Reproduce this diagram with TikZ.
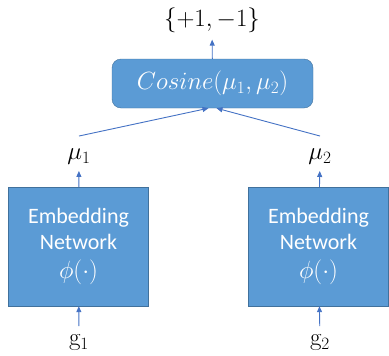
\documentclass[tikz,border=0pt]{standalone}
\usepackage[no-math]{fontspec}
\setmainfont{Carlito}
\usetikzlibrary{positioning,arrows.meta}
\definecolor{boxblue}{HTML}{5B9BD5}
\definecolor{boxedge}{HTML}{41719C}
\definecolor{arrowblue}{HTML}{4472C4}
\newcommand{\bigmath}[1]{{\fontsize{27}{26}\selectfont$#1$}}
\tikzset{
  netbox/.style={draw=boxedge,fill=boxblue,rectangle,minimum width=140pt,minimum height=119pt,text=white,align=center,font=\fontsize{22}{26}\selectfont},
  cosbox/.style={draw=boxedge,fill=boxblue,rectangle,rounded corners=9pt,minimum width=201pt,minimum height=49pt,text=white,font=\fontsize{24}{26}\selectfont},
  lbl/.style={inner sep=0pt,font=\fontsize{23}{26}\selectfont},
  arr/.style={draw=arrowblue,line width=0.9pt,-{Triangle[length=6pt,width=5pt]}}
}
\begin{document}
\begin{tikzpicture}[x=1pt,y=-1pt]
\useasboundingbox (0,0) rectangle (389,356);
%\draw [thin,red] (0,0) rectangle (389,356);
\node [cosbox] (cos) at(212.5,83.5){$Cosine(\mu_1,\mu_2)$};
\node [lbl] (res) at(212,20){$\{+1,-1\}$};

\node [netbox] (e1) at(78.5,246.5){Embedding\\Network\\[3pt]\bigmath{\phi(\cdot)}};
\node [netbox] (e2) at(318.5,246.5){Embedding\\Network\\[3pt]\bigmath{\phi(\cdot)}};

\node [lbl] (mu1) at(79,157){$\mu_1$};
\node [lbl] (mu2) at(320,157){$\mu_2$};
\node [lbl] (g1) at(79,343){$\mathrm{g}_1$};
\node [lbl] (g2) at(320,343){$\mathrm{g}_2$};

\draw[arr,shorten >=7pt](cos) -- (res);
\draw[arr,shorten >=6pt](e1) -- (mu1);
\draw[arr,shorten >=6pt](e2) -- (mu2);
\draw[arr,shorten <=9pt](g1) -- (e1);
\draw[arr,shorten <=9pt](g2) -- (e2);
\draw[arr]([yshift=13pt]mu1.north) -- ([xshift=-4pt]cos.south);
\draw[arr]([yshift=13pt]mu2.north) -- ([xshift=4pt]cos.south);
\end{tikzpicture}
\end{document}
